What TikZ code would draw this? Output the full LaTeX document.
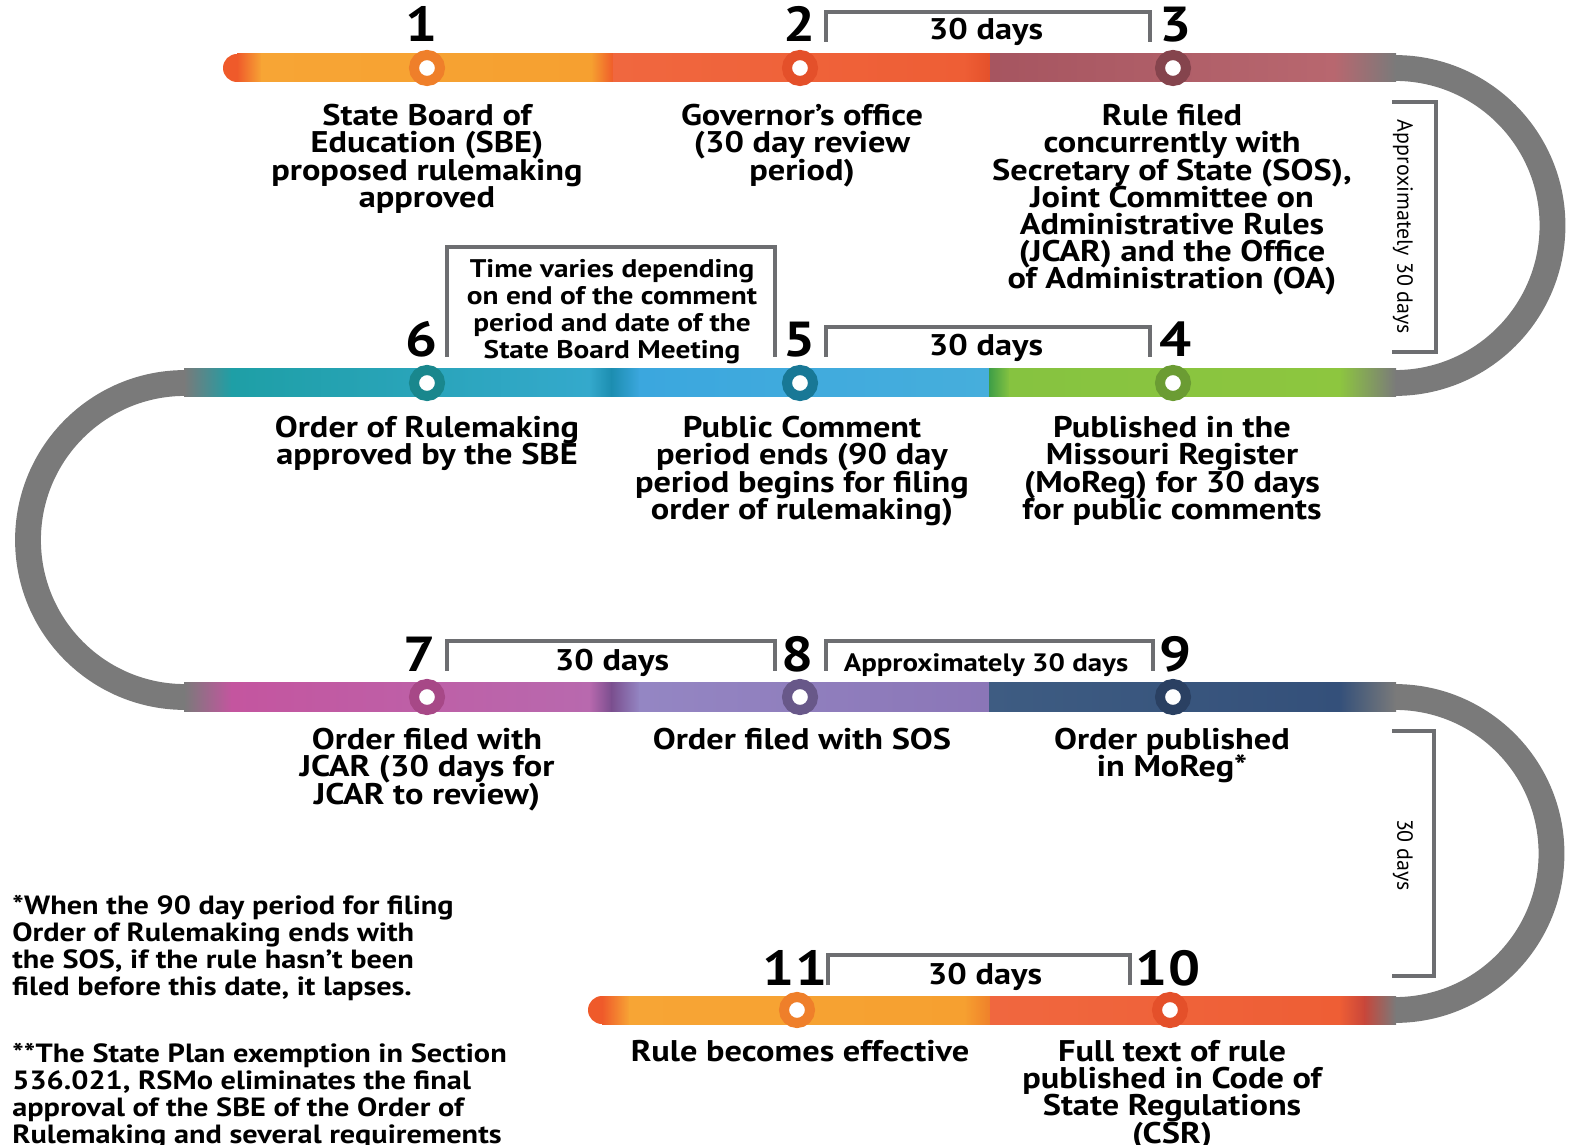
\documentclass[tikz,border=0pt]{standalone}
\usepackage{fontspec}
\setmainfont{PT Sans}[FakeStretch=1.15]
\newfontfamily\sidefont{PT Sans}
\usetikzlibrary{positioning}
\lineskiplimit=-100pt

\definecolor{trackgray}{HTML}{7A7A7A}
\definecolor{spangray}{HTML}{6D6E71}
\definecolor{rA}{HTML}{EF5A2A}
\definecolor{orA}{HTML}{F7A535}
\definecolor{orB}{HTML}{F6A030}
\definecolor{orC}{HTML}{EF7F2A}
\definecolor{rC}{HTML}{F0673F}
\definecolor{rD}{HTML}{EE5E35}
\definecolor{rE}{HTML}{E4502A}
\definecolor{redD}{HTML}{C8463A}
\definecolor{roseA}{HTML}{A65560}
\definecolor{roseB}{HTML}{B8676F}
\definecolor{tealA}{HTML}{1E9FA6}
\definecolor{tealB}{HTML}{34A9CC}
\definecolor{tealC}{HTML}{1C8DB0}
\definecolor{blueA}{HTML}{3BA7DE}
\definecolor{blueB}{HTML}{46AEDC}
\definecolor{greenD}{HTML}{3E9E47}
\definecolor{greenA}{HTML}{86C340}
\definecolor{greenB}{HTML}{8DC63F}
\definecolor{magA}{HTML}{C4559F}
\definecolor{magB}{HTML}{B869AE}
\definecolor{purD}{HTML}{7A4E8E}
\definecolor{purA}{HTML}{9486C3}
\definecolor{purB}{HTML}{8B76B7}
\definecolor{slateA}{HTML}{3E5C82}
\definecolor{slateB}{HTML}{34507A}

% one piece of the coloured track: y, x from, x to, colour from, colour to
\newcommand\band[5]{\shade[left color=#4, right color=#5] (#2,#1-14) rectangle (#3,#1+14);}

\tikzset{
    lbl/.style={align=center, font=\bfseries\fontsize{17}{15.5}\selectfont, inner sep=0pt, anchor=north},
    num/.style={font=\bfseries\fontsize{28}{28}\selectfont, inner sep=0pt, anchor=base},
    ring/.style={circle, fill=white, draw=#1, line width=5.7pt, minimum size=0.52cm, inner sep=0pt},
    span/.style={draw=spangray, line width=1.8pt},
    spantext/.style={font=\bfseries\fontsize{17}{17}\selectfont, inner sep=0pt, anchor=base},
    smalltext/.style={font=\bfseries\fontsize{14.5}{15.4}\selectfont, inner sep=0pt},
    sidetext/.style={font=\sidefont\fontsize{12.5}{13}\selectfont, inner sep=0pt, rotate=-90},
    note/.style={align=left, font=\bfseries\fontsize{15}{15.4}\selectfont, inner sep=0pt, anchor=north west},
    turn/.style={draw=trackgray, line width=14.7pt}
}

\begin{document}
\begin{tikzpicture}[x=0.02cm, y=-0.02cm]
    \useasboundingbox (0,0) rectangle (1570,1145);

    % grey turns between the rows
    \draw[turn] (1395,68) arc[start angle=-90, end angle=90, radius=157.5];
    \draw[turn] (185,383) arc[start angle=-90, end angle=-270, radius=157];
    \draw[turn] (1395,697) arc[start angle=-90, end angle=90, radius=156.5];

    % row 1
    \fill[rA] (237,68) circle[radius=14];
    \band{68}{237}{262}{rA}{orA}
    \band{68}{261}{592}{orA}{orB}
    \band{68}{591}{614}{orB}{rA}
    \band{68}{613}{965}{rC}{rD}
    \band{68}{964}{991}{rD}{rE}
    \band{68}{990}{1335}{roseA}{roseB}
    \band{68}{1334}{1396}{roseB}{trackgray}

    % row 2
    \band{383}{184}{232}{trackgray}{tealA}
    \band{383}{231}{590}{tealA}{tealB}
    \band{383}{589}{612}{tealB}{tealC}
    \band{383}{611}{640}{tealC}{blueA}
    \band{383}{639}{990}{blueA}{blueB}
    \band{383}{989}{1010}{greenD}{greenA}
    \band{383}{1009}{1340}{greenA}{greenB}
    \band{383}{1339}{1396}{greenB}{trackgray}

    % row 3
    \band{697}{184}{232}{trackgray}{magA}
    \band{697}{231}{590}{magA}{magB}
    \band{697}{589}{612}{magB}{purD}
    \band{697}{611}{640}{purD}{purA}
    \band{697}{639}{990}{purA}{purB}
    \band{697}{989}{1340}{slateA}{slateB}
    \band{697}{1339}{1396}{slateB}{trackgray}

    % row 4
    \fill[rA] (602,1010) circle[radius=14];
    \band{1010}{602}{630}{rA}{orA}
    \band{1010}{629}{965}{orA}{orB}
    \band{1010}{964}{991}{orB}{orC}
    \band{1010}{990}{1340}{rC}{rD}
    \band{1010}{1339}{1365}{rD}{redD}
    \band{1010}{1364}{1396}{redD}{trackgray}

    % stops
    \node[ring=orC] (s1) at (427,68) {};
    \node[ring=rE] (s2) at (800,68) {};
    \node[ring=roseA!80!black] (s3) at (1173,68) {};
    \node[ring=greenA!80!black] (s4) at (1173,383) {};
    \node[ring=tealC!85!black] (s5) at (800,383) {};
    \node[ring=tealA!85!black] (s6) at (427,383) {};
    \node[ring=magA!85!black] (s7) at (427,697) {};
    \node[ring=purB!75!black] (s8) at (800,697) {};
    \node[ring=slateB!80!black] (s9) at (1173,697) {};
    \node[ring=rE] (s10) at (1170,1010) {};
    \node[ring=orC] (s11) at (797,1010) {};

    % step numbers
    \node[num] (n1) at (422,42) {1};
    \node[num] (n2) at (800,42) {2};
    \node[num] (n3) at (1176,42) {3};
    \node[num] (n4) at (1176,357) {4};
    \node[num] (n5) at (800,357) {5};
    \node[num] (n6) at (422,357) {6};
    \node[num] (n7) at (420,671) {7};
    \node[num] (n8) at (798,671) {8};
    \node[num] (n9) at (1176,671) {9};
    \node[num] (n10) at (1168,985) {10};
    \node[num] (n11) at (795,985) {11};

    % time spans
    \draw[span] (826,42) |- (1150,12) -- (1150,42);
    \node[spantext] (t23) at (986,40) {30 days};
    \draw[span] (826,357) |- (1150,327) -- (1150,357);
    \node[spantext] (t54) at (986,356) {30 days};
    \draw[span] (447,357) |- (775,247) -- (775,357);
    \node[smalltext, align=center, anchor=north] (t65) at (612,259)
        {Time varies depending\\on end of the comment\\period and date of the\\State Board Meeting};
    \draw[span] (447,671) |- (775,641) -- (775,671);
    \node[spantext] (t78) at (612,670) {30 days};
    \draw[span] (826,671) |- (1153,641) -- (1153,671);
    \node[smalltext, font=\bfseries\fontsize{14.3}{15}\selectfont, anchor=base] (t89) at (986,671) {Approximately 30 days};
    \draw[span] (828,985) |- (1130,955) -- (1130,985);
    \node[spantext] (t1110) at (985,984) {30 days};
    \draw[span] (1392,102) -| (1436,352) -- (1392,352);
    \node[sidetext] (t34) at (1403,227) {Approximately 30 days};
    \draw[span] (1392,731) -| (1434,976) -- (1392,976);
    \node[sidetext] (t910) at (1403,855) {30 days};

    % step texts
    \node[lbl] (l1) at (427,104) {State Board of\\Education (SBE)\\proposed rulemaking\\approved};
    \node[lbl] (l2) at (802,104) {Governor's office\\(30 day review\\period)};
    \node[lbl] (l3) at (1172,104) {Rule filed\\concurrently with\\Secretary of State (SOS),\\Joint Committee on\\Administrative Rules\\(JCAR) and the Office\\of Administration (OA)};
    \node[lbl] (l6) at (427,416) {Order of Rulemaking\\approved by the SBE};
    \node[lbl] (l5) at (802,416) {Public Comment\\period ends (90 day\\period begins for filing\\order of rulemaking)};
    \node[lbl] (l4) at (1172,416) {Published in the\\Missouri Register\\(MoReg) for 30 days\\for public comments};
    \node[lbl] (l7) at (427,728) {Order filed with\\JCAR (30 days for\\JCAR to review)};
    \node[lbl] (l8) at (802,728) {Order filed with SOS};
    \node[lbl] (l9) at (1172,728) {Order published\\in MoReg*};
    \node[lbl] (l11) at (800,1040) {Rule becomes effective};
    \node[lbl] (l10) at (1172,1040) {Full text of rule\\published in Code of\\State Regulations\\(CSR)};

    % footnotes
    \node[note] (f1) at (12,895) {*When the 90 day period for filing\\Order of Rulemaking ends with\\the SOS, if the rule hasn't been\\filed before this date, it lapses.};
    \node[note] (f2) at (12,1043) {**The State Plan exemption in Section\\536.021, RSMo eliminates the final\\approval of the SBE of the Order of\\Rulemaking and several requirements};
\end{tikzpicture}
\end{document}
